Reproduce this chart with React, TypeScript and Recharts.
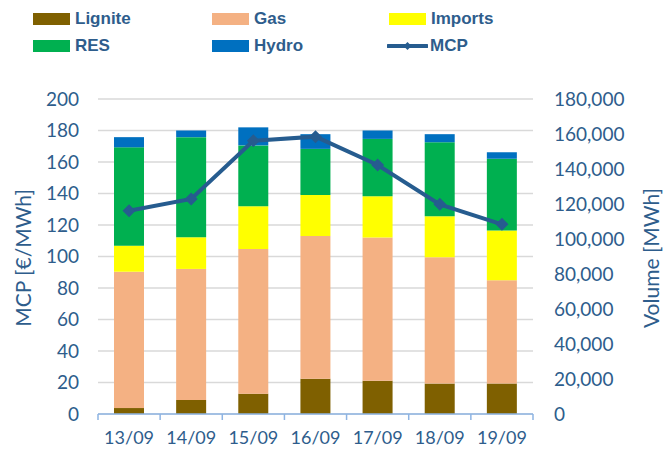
import { Bar, CartesianGrid, ComposedChart, Line, XAxis, YAxis } from 'recharts'

const dates = ['13/09', '14/09', '15/09', '16/09', '17/09', '18/09', '19/09']
const lignite = [3400, 8000, 11600, 20200, 19000, 17400, 17400]
const gas = [77900, 74900, 82700, 81500, 81800, 72200, 59000]
const imports = [14900, 18100, 24400, 23400, 23600, 23400, 28400]
const res = [56200, 57200, 34800, 26400, 32800, 42300, 41000]
const hydro = [5800, 3800, 10300, 8400, 4800, 4600, 3800]
const mcp = [129.1, 136.5, 173.5, 176.1, 158.1, 133.1, 120.4]

const mcpTicks = [0, 20, 40, 60, 80, 100, 120, 140, 160, 180, 200]
const volTicks = [0, 20000, 40000, 60000, 80000, 100000, 120000, 140000, 160000, 180000]

const W = 665
const H = 449
const LEFT_W = 98
const RIGHT_W = 132
const TOP = 99
const X_H = 35
const PLOT_W = W - LEFT_W - RIGHT_W
const BAND = PLOT_W / dates.length

const INK = '#2E5D8C'
const AXIS_BLUE = '#8EB4E3'
const LINE_BLUE = '#265C8F'
const FONT = 'Lato, "Open Sans", sans-serif'

const series = [
  { key: 'Lignite', color: '#7F6000' },
  { key: 'Gas', color: '#F4B183' },
  { key: 'Imports', color: '#FFFF00' },
  { key: 'RES', color: '#00B050' },
  { key: 'Hydro', color: '#0070C0' },
]

const data = dates.map((d, i) => ({
  date: d,
  Lignite: lignite[i],
  Gas: gas[i],
  Imports: imports[i],
  RES: res[i],
  Hydro: hydro[i],
  MCP: mcp[i],
}))

function DateTick(props: any) {
  const { x, y, payload, index } = props
  const last = index === dates.length - 1
  return (
    <g>
      <line x1={x - BAND / 2} x2={x - BAND / 2} y1={y} y2={y + 6} stroke={AXIS_BLUE} strokeWidth={1.5} />
      {last && <line x1={x + BAND / 2} x2={x + BAND / 2} y1={y} y2={y + 6} stroke={AXIS_BLUE} strokeWidth={1.5} />}
      <text x={x} y={y + 23} textAnchor="middle" dominantBaseline="central" fill={INK} fontSize={18} fontFamily={FONT}>
        {payload.value}
      </text>
    </g>
  )
}

function Diamond(props: any) {
  const { cx, cy } = props
  if (cx == null || cy == null) return null
  const r = 6.5
  return <path d={`M${cx},${cy - r}L${cx + r},${cy}L${cx},${cy + r}L${cx - r},${cy}Z`} fill={LINE_BLUE} />
}

const legendItems = [
  { label: 'Lignite', color: '#7F6000', x: 33, y: 19 },
  { label: 'Gas', color: '#F4B183', x: 212, y: 19 },
  { label: 'Imports', color: '#FFFF00', x: 389, y: 19 },
  { label: 'RES', color: '#00B050', x: 33, y: 46 },
  { label: 'Hydro', color: '#0070C0', x: 212, y: 46 },
]

function LegendBox() {
  const text = { fontFamily: '"Liberation Sans", Arial, sans-serif', fontWeight: 700, fontSize: 17, color: INK }
  return (
    <>
      {legendItems.map((it) => (
        <div key={it.label} style={{ position: 'absolute', left: it.x, top: it.y - 10, height: 20, display: 'flex', alignItems: 'center' }}>
          <div style={{ width: 37, height: 12, background: it.color, marginRight: 5 }} />
          <span style={text}>{it.label}</span>
        </div>
      ))}
      <div style={{ position: 'absolute', left: 387, top: 36, height: 20, display: 'flex', alignItems: 'center' }}>
        <svg width={41} height={12} style={{ marginRight: 2 }}>
          <line x1={1} x2={40} y1={6} y2={6} stroke={LINE_BLUE} strokeWidth={4} strokeLinecap="round" />
          <path d="M20.5,2L24.5,6L20.5,10L16.5,6Z" fill={LINE_BLUE} />
        </svg>
        <span style={text}>MCP</span>
      </div>
    </>
  )
}

export default function App() {
  const title = { position: 'absolute' as const, fontFamily: FONT, fontSize: 21, color: INK, whiteSpace: 'nowrap' as const, lineHeight: '22px' }
  return (
    <div style={{ position: 'absolute', left: 0, top: 0, width: W, height: H, background: '#fff' }}>
      <ComposedChart width={W} height={H} data={data} margin={{ top: TOP, right: 0, bottom: 0, left: 0 }}>
        <CartesianGrid vertical={false} stroke="#D9D9D9" strokeWidth={1.5} yAxisId="left" />
        <XAxis
          dataKey="date"
          height={X_H}
          tickSize={0}
          tickMargin={0}
          tickLine={false}
          axisLine={{ stroke: AXIS_BLUE, strokeWidth: 1.5 }}
          tick={<DateTick />}
          interval={0}
        />
        <YAxis
          yAxisId="left"
          orientation="left"
          width={LEFT_W}
          domain={[0, 200]}
          ticks={mcpTicks}
          axisLine={false}
          tickLine={false}
          tickSize={0}
          tickMargin={19}
          tick={{ fill: INK, fontSize: 19, fontFamily: FONT }}
        />
        <YAxis
          yAxisId="right"
          orientation="right"
          width={RIGHT_W}
          domain={[0, 180000]}
          ticks={volTicks}
          axisLine={false}
          tickLine={false}
          tickSize={0}
          tickMargin={21}
          tick={{ fill: INK, fontSize: 19, fontFamily: FONT, textAnchor: 'start' }}
          tickFormatter={(v: number) => v.toLocaleString('en-US')}
        />
        {series.map((s) => (
          <Bar key={s.key} dataKey={s.key} stackId="v" yAxisId="right" fill={s.color} barSize={30} isAnimationActive={false} />
        ))}
        <Line
          dataKey="MCP"
          yAxisId="left"
          stroke={LINE_BLUE}
          strokeWidth={4}
          dot={<Diamond />}
          activeDot={false}
          isAnimationActive={false}
        />
      </ComposedChart>
      <LegendBox />
      <div style={{ ...title, left: 23, top: 258, transform: 'translate(-50%, -50%) rotate(-90deg)' }}>MCP [€/MWh]</div>
      <div style={{ ...title, left: 651, top: 258, transform: 'translate(-50%, -50%) rotate(-90deg)' }}>Volume [MWh]</div>
    </div>
  )
}
